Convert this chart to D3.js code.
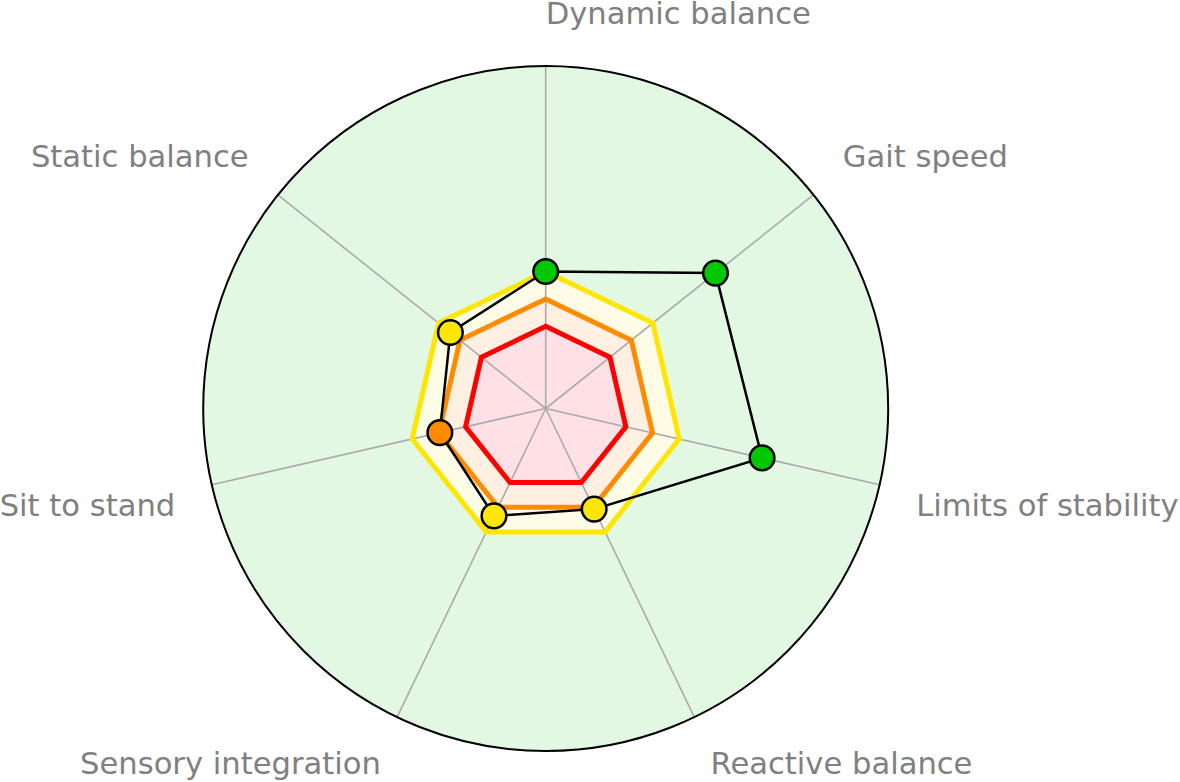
<!DOCTYPE html>
<html>
<head>
<meta charset="utf-8">
<script src="https://cdn.jsdelivr.net/npm/d3@7"></script>
<style>
    html, body { margin: 0; padding: 0; background: #fff; }
    svg { display: block; }
</style>
</head>
<body>
<script>
// axes, clockwise from the top
let categories = ["Dynamic balance", "Gait speed", "Limits of stability", "Reactive balance",
    "Sensory integration", "Sit to stand", "Static balance"];
// score per axis (percent of the outer ring)
let scores = [40, 63.4, 64.8, 32.6, 34.8, 31.7, 35.6];
// zone limits: red / orange / yellow, green above
let thresholds = [24, 32, 40];
let zoneNames = ["red", "orange", "yellow"];
let maxValue = 100;

let width = 1180, height = 782;
let cx = 545.7, cy = 408.5, radius = 342.5, labelRadius = 380;

let svg = d3.select("body").append("svg")
    .attr("width", width)
    .attr("height", height);

let r = d3.scaleLinear().domain([0, maxValue]).range([0, radius]);
let angle = d3.scaleLinear().domain([0, categories.length]).range([0, 2 * Math.PI]);

let strokeColor = {red: "#ff0000", orange: "#ff8c00", yellow: "#ffe600"};
let fillColor = {red: "#ffe1e5", orange: "#fff0e2", yellow: "#fefce7"};
let pointColor = v => v < thresholds[0] ? "#ff0000" : v < thresholds[1] ? "#ff8c00" : v < thresholds[2] ? "#ffe600" : "#00c800";

let g = svg.append("g").attr("transform", `translate(${cx},${cy})`);

let radial = d3.lineRadial()
    .angle((d, i) => angle(i))
    .radius(d => r(d))
    .curve(d3.curveLinearClosed);

// outer disc
g.append("circle").attr("r", radius).attr("fill", "#e2f8e2");

// zone fills, biggest first
let zones = thresholds.map((t, i) => ({name: zoneNames[i], value: t})).reverse();
g.append("g").selectAll("path")
    .data(zones)
    .join("path")
    .attr("d", z => radial(categories.map(() => z.value)))
    .attr("fill", z => fillColor[z.name]);

// spokes
g.append("g").selectAll("line")
    .data(categories)
    .join("line")
    .attr("x1", 0).attr("y1", 0)
    .attr("x2", (d, i) => r(maxValue) * Math.sin(angle(i)))
    .attr("y2", (d, i) => -r(maxValue) * Math.cos(angle(i)))
    .attr("stroke", "#aaaaaa")
    .attr("stroke-width", 1.6);

// zone outlines
g.append("g").selectAll("path")
    .data(zones)
    .join("path")
    .attr("d", z => radial(categories.map(() => z.value)))
    .attr("fill", "none")
    .attr("stroke", z => strokeColor[z.name])
    .attr("stroke-width", 5)
    .attr("stroke-linejoin", "miter");

g.append("circle").attr("r", radius)
    .attr("fill", "none")
    .attr("stroke", "#000")
    .attr("stroke-width", 2);

// score polygon
g.append("path")
    .attr("d", radial(scores))
    .attr("fill", "none")
    .attr("stroke", "#000")
    .attr("stroke-width", 2.5);

g.append("g").selectAll("circle")
    .data(scores)
    .join("circle")
    .attr("cx", (d, i) => r(d) * Math.sin(angle(i)))
    .attr("cy", (d, i) => -r(d) * Math.cos(angle(i)))
    .attr("r", 12.3)
    .attr("fill", d => pointColor(d))
    .attr("stroke", "#000")
    .attr("stroke-width", 2.5);

// labels
g.append("g").selectAll("text")
    .data(categories)
    .join("text")
    .attr("x", (d, i) => labelRadius * Math.sin(angle(i)))
    .attr("y", (d, i) => {
        let y = -labelRadius * Math.cos(angle(i));
        return Math.cos(angle(i)) > 0 ? y - 5 : y + 23;
    })
    .attr("text-anchor", (d, i) => Math.sin(angle(i)) >= -1e-9 ? "start" : "end")
    .attr("font-family", "DejaVu Sans, sans-serif")
    .attr("font-size", 30.6)
    .attr("fill", "#808080")
    .text(d => d);
</script>
</body>
</html>
